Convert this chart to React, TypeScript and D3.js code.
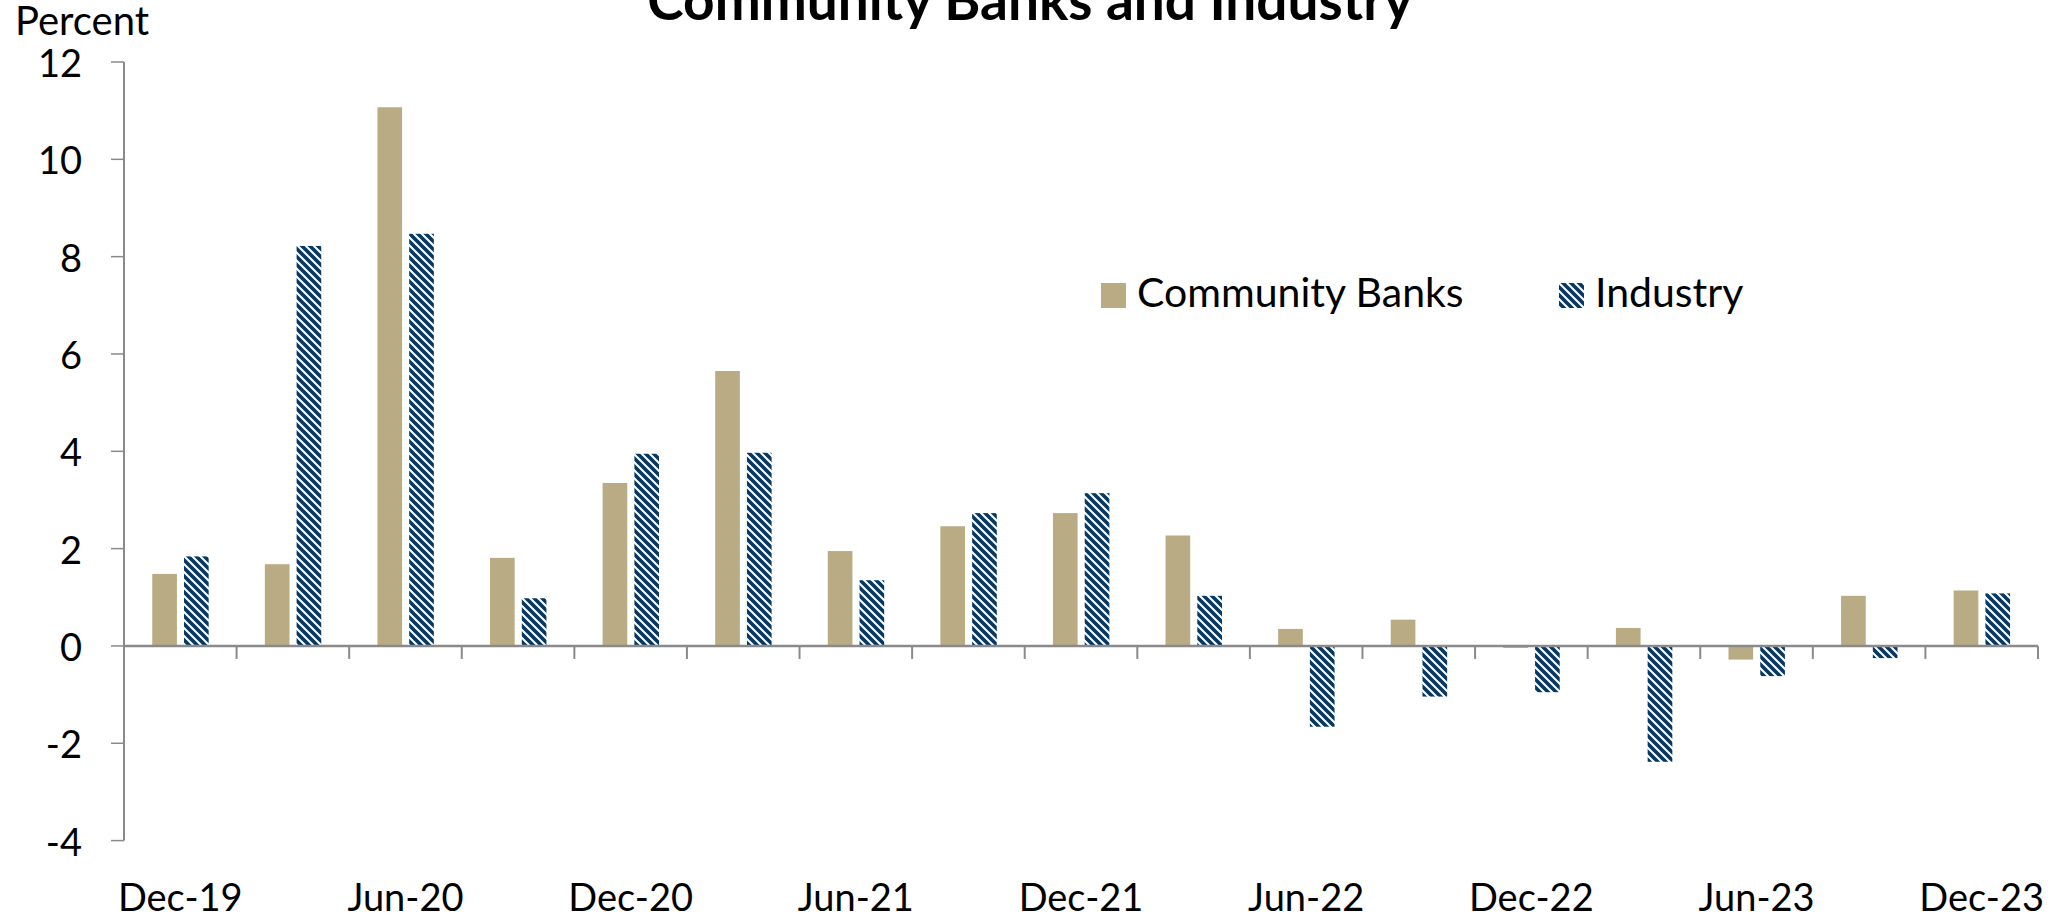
import React from "react";
import * as d3 from "d3";

const categories = [
  "Dec-19", "Mar-20", "Jun-20", "Sep-20", "Dec-20", "Mar-21", "Jun-21", "Sep-21",
  "Dec-21", "Mar-22", "Jun-22", "Sep-22", "Dec-22", "Mar-23", "Jun-23", "Sep-23", "Dec-23",
];
const communityBanks = [1.48, 1.68, 11.07, 1.81, 3.35, 5.65, 1.95, 2.46, 2.73, 2.27, 0.35, 0.54, -0.04, 0.37, -0.28, 1.03, 1.14];
const industry = [1.84, 8.22, 8.47, 0.98, 3.95, 3.97, 1.35, 2.73, 3.14, 1.03, -1.66, -1.04, -0.95, -2.38, -0.62, -0.25, 1.08];
const yTicks = [-4, -2, 0, 2, 4, 6, 8, 10, 12];
const xLabels = ["Dec-19", "Jun-20", "Dec-20", "Jun-21", "Dec-21", "Jun-22", "Dec-22", "Jun-23", "Dec-23"];
const seriesNames = ["Community Banks", "Industry"];
const title = "Community Banks and Industry";

const W = 2058;
const H = 918;
const CB_COLOR = "#b9ab83";
const NAVY = "#063863";
const AXIS = "#8a8a8a";
const FONT = "Lato, 'Open Sans', sans-serif";

export default function App() {
  const x = d3.scaleBand<string>().domain(categories).range([124, 2038]).padding(0);
  const y = d3.scaleLinear().domain([-4, 12]).range([840.6, 62]);
  const bw = x.bandwidth();
  const barW = bw * 0.219;
  const off1 = bw * 0.251;
  const off2 = bw * 0.533;
  const y0 = y(0);

  const bars = (vals: number[], off: number, fill: string, key: string) =>
    vals.map((v, i) => {
      const top = Math.min(y(v), y0);
      const h = Math.abs(y(v) - y0);
      return (
        <rect key={key + i} x={(x(categories[i]) as number) + off} y={top} width={barW} height={h} fill={fill} />
      );
    });

  const boundaries = d3.range(categories.length + 1).map((i) => 124 + i * bw);

  return (
    <svg width={W} height={H} style={{ position: "absolute", left: 0, top: 0, background: "#fff" }} fontFamily={FONT}>
      <defs>
        <pattern id="hatch" patternUnits="userSpaceOnUse" width={8} height={8}>
          <rect width={8} height={8} fill="#fff" />
          <path d="M-2,-2 L10,10 M-6,2 L2,10 M6,-2 L10,2" stroke={NAVY} strokeWidth={3.6} />
        </pattern>
      </defs>
      <rect width={W} height={H} fill="#fff" />

      <text x={1030} y={20} textAnchor="middle" fontWeight={700} fontSize={55} fill="#000">{title}</text>
      <text x={15} y={35} fontSize={40} fill="#000">Percent</text>

      {bars(communityBanks, off1, CB_COLOR, "cb")}
      {bars(industry, off2, "url(#hatch)", "in")}

      {/* y axis */}
      <line x1={124} x2={124} y1={y(12)} y2={y(-4)} stroke={AXIS} strokeWidth={2} />
      {yTicks.map((t) => (
        <g key={"yt" + t}>
          <line x1={111} x2={124} y1={y(t)} y2={y(t)} stroke={AXIS} strokeWidth={1.5} />
          <text x={82} y={y(t)} textAnchor="end" dominantBaseline="central" fontSize={38} fill="#000">{t}</text>
        </g>
      ))}

      {/* x axis */}
      <line x1={124} x2={2038} y1={y0} y2={y0} stroke={AXIS} strokeWidth={2.5} />
      {boundaries.map((bx, i) => (
        <line key={"xt" + i} x1={bx} x2={bx} y1={y0} y2={y0 + 13} stroke={AXIS} strokeWidth={2} />
      ))}
      {xLabels.map((l) => (
        <text key={l} x={(x(l) as number) + bw / 2} y={911} textAnchor="middle" fontSize={38} fill="#000">{l}</text>
      ))}

      {/* legend */}
      <rect x={1101} y={283} width={25} height={25} fill={CB_COLOR} />
      <text x={1137} y={307} fontSize={41} fill="#000">{seriesNames[0]}</text>
      <rect x={1559} y={283} width={25} height={25} fill="url(#hatch)" />
      <text x={1595} y={307} fontSize={41} fill="#000">{seriesNames[1]}</text>
    </svg>
  );
}
